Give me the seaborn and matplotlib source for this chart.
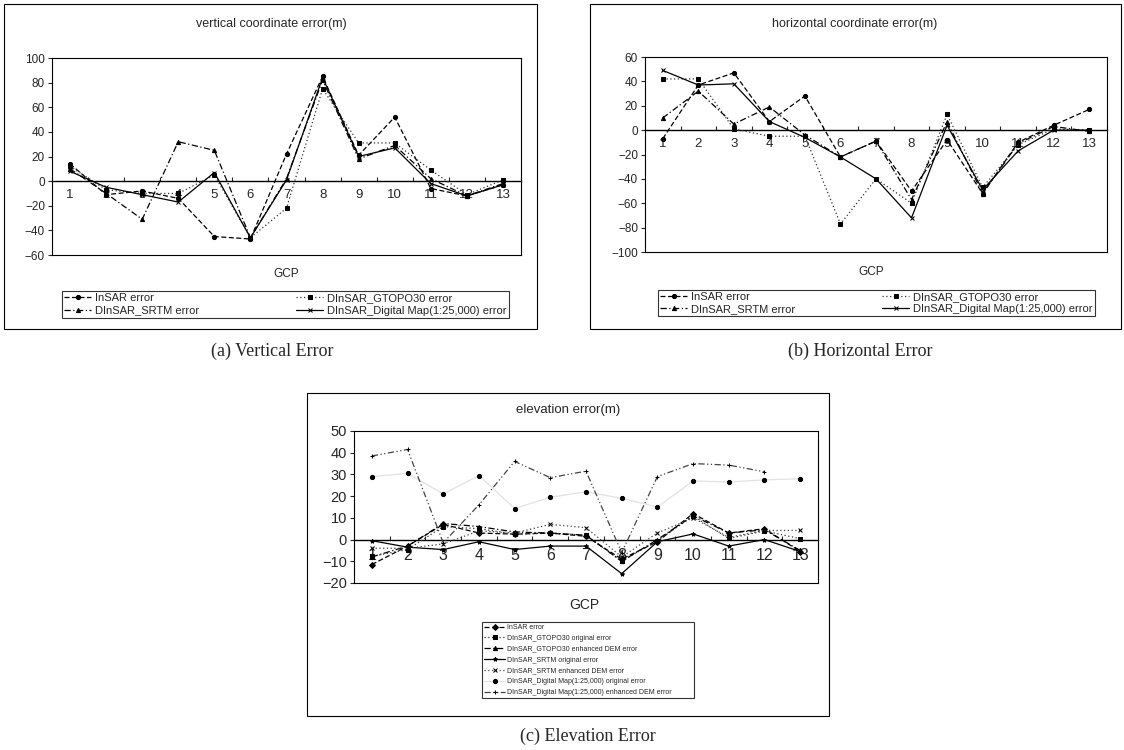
import numpy as np
import matplotlib
matplotlib.use("Agg")
import matplotlib.pyplot as plt
import seaborn as sns
from matplotlib.patches import Rectangle

gcp = list(range(1, 14))

# (a) vertical coordinate error (m)
vert_insar = [14, -11, -8, -14, -45, -47, 22, 85, 21, 52, -6, -12, -3]
vert_gtopo = [12, -7, -10, -10, 5, -46, -22, 75, 31, 31, 9, -11, 1]
vert_srtm = [10, -10, -31, 32, 25, -46, 2, 82, 18, 29, 2, -12, -2]
vert_dmap = [8, -5, -11, -17, 7, -46, 1, 84, 20, 27, -2, -12, -3]

# (b) horizontal coordinate error (m)
hor_insar = [-7, 37, 47, 7, 28, -22, -9, -50, -8, -52, -10, 4, 17]
hor_gtopo = [42, 42, 1, -5, -5, -77, -40, -60, 13, -47, -12, 1, 0]
hor_srtm = [10, 32, 5, 19, -4, -22, -9, -57, 7, -52, -11, 3, -1]
hor_dmap = [49, 37, 38, 7, -6, -22, -40, -72, 4, -49, -17, 0, 0]

# (c) elevation error (m)
el_insar = [-11.5, -3, 7, 3, 2.5, 3, 1.5, -9, -1, 12, 3, 5, -5.5]
el_gtopo_orig = [-7.7, -4.6, 6, 5, 2.5, 3, 2, -10, -0.5, 10.8, 0.5, 4, 0.4]
el_gtopo_enh = [-8, -3, 7.4, 6, 3.5, 3, 2, -10, 0, 11, 3, 4.5, -5]
el_srtm_orig = [-0.5, -3.5, -4.6, -1, -4.6, -3, -3, -15.7, -1, 2.6, -3, 0, -5.5]
el_srtm_enh = [-4, -4, -2, 4, 3, 7, 5.5, -8, 3, 10, 1, 4.2, 4.2]
el_dmap_orig = [29, 30.5, 21, 29.5, 14.3, 19.5, 22, 19, 15, 27, 26.5, 27.5, 28]
el_dmap_enh = [38.5, 41.5, -1.5, 16, 36, 28.5, 31.5, -6, 29, 35, 34.3, 31.2, np.nan]

labels_ab = ["InSAR error", "DInSAR_GTOPO30 error", "DInSAR_SRTM error",
             "DInSAR_Digital Map(1:25,000) error"]
labels_c = ["InSAR error", "DInSAR_GTOPO30 original error",
            "DInSAR_GTOPO30 enhanced DEM error", "DInSAR_SRTM original error",
            "DInSAR_SRTM enhanced DEM error",
            "DInSAR_Digital Map(1:25,000) original error",
            "DInSAR_Digital Map(1:25,000) enhanced DEM error"]

sns.set_style("white")
plt.rcParams["font.family"] = ["Liberation Sans", "DejaVu Sans"]

W, H = 1124, 750
fig = plt.figure(figsize=(W / 100, H / 100), dpi=100)


def px_axes(x0, y0, x1, y1):
    return fig.add_axes([x0 / W, 1 - y1 / H, (x1 - x0) / W, (y1 - y0) / H])


def fx(x, y):
    return x / W, 1 - y / H


def frame(x0, y0, x1, y1):
    fig.add_artist(Rectangle(fx(x0, y1), (x1 - x0) / W, (y1 - y0) / H,
                             transform=fig.transFigure, fill=False,
                             ec="black", lw=0.8))


def style_axes(ax, ylim, step, fs):
    ax.set_xlim(0.5, 13.5)
    ax.set_ylim(*ylim)
    ax.set_yticks(np.arange(ylim[0], ylim[1] + step, step))
    ax.set_xticks([])
    ax.set_xlabel("")
    ax.set_ylabel("")
    ax.tick_params(axis="y", left=True, direction="out", length=3,
                   width=0.8, labelsize=fs, pad=2)
    for sp in ax.spines.values():
        sp.set_color("black")
        sp.set_linewidth(0.8)
    # category labels sit on the zero line, Excel style
    sec = ax.secondary_xaxis(0, transform=ax.transData)
    sec.set_xticks(gcp)
    sec.set_xticks(np.arange(0.5, 14, 1), minor=True)
    sec.tick_params(which="major", length=0, labelsize=fs + 1, pad=6)
    sec.tick_params(which="minor", length=3, direction="in", width=0.8)
    sec.spines["bottom"].set_linewidth(1.0)
    sec.spines["bottom"].set_color("black")


def draw(ax, series, labels, styles, lw, ms):
    for vals, lab, (ls, mk, col) in zip(series, labels, styles):
        sns.lineplot(x=gcp, y=vals, ax=ax, color=col, linestyle=ls,
                     marker=mk, markersize=ms, markeredgecolor="black",
                     markerfacecolor="black", lw=lw, label=lab)


def legend(ax, handles, labels, box, ncol, fs, **kw):
    x0, y0, x1, y1 = box
    leg = ax.legend(handles, labels, ncol=ncol, mode="expand", loc="center",
                    bbox_to_anchor=(x0 / W, 1 - y1 / H, (x1 - x0) / W,
                                    (y1 - y0) / H),
                    bbox_transform=fig.transFigure, fontsize=fs,
                    frameon=True, fancybox=False, edgecolor="black",
                    borderaxespad=0, **kw)
    leg.get_frame().set_linewidth(0.8)


styles_ab = [((0, (4, 2)), "o", "black"),
             ((0, (1, 2)), "s", "#333333"),
             ((0, (5, 2, 1, 2)), "^", "black"),
             ("-", "x", "black")]
order = [0, 2, 1, 3]
serif = ["Liberation Serif", "DejaVu Serif"]

# ---- (a) vertical ----
frame(4, 4, 537, 329)
ax_a = px_axes(52, 58, 521, 255)
draw(ax_a, [vert_insar, vert_gtopo, vert_srtm, vert_dmap], labels_ab,
     styles_ab, 0.9, 3)
style_axes(ax_a, (-60, 100), 20, 8.5)
fig.text(*fx(271, 24), "vertical coordinate error(m)", ha="center",
         va="center", fontsize=9)
fig.text(*fx(286, 274), "GCP", ha="center", va="center", fontsize=8.5)
h, l = ax_a.get_legend_handles_labels()
legend(ax_a, [h[i] for i in order], [l[i] for i in order],
       (62, 288, 509, 321), 2, 8, handlelength=2.4, borderpad=0.2,
       labelspacing=0.2, handletextpad=0.4, columnspacing=1.0)
fig.text(*fx(272, 351), "(a) Vertical Error", ha="center", va="center",
         fontsize=13, family=serif)

# ---- (b) horizontal ----
frame(590, 4, 1121, 329)
ax_b = px_axes(645, 57, 1107, 252)
draw(ax_b, [hor_insar, hor_gtopo, hor_srtm, hor_dmap], labels_ab,
     styles_ab, 0.9, 3)
style_axes(ax_b, (-100, 60), 20, 8.5)
fig.text(*fx(855, 24), "horizontal coordinate error(m)", ha="center",
         va="center", fontsize=9)
fig.text(*fx(871, 272), "GCP", ha="center", va="center", fontsize=8.5)
h, l = ax_b.get_legend_handles_labels()
legend(ax_b, [h[i] for i in order], [l[i] for i in order],
       (658, 286, 1095, 320), 2, 8, handlelength=2.4, borderpad=0.2,
       labelspacing=0.2, handletextpad=0.4, columnspacing=1.0)
fig.text(*fx(860, 351), "(b) Horizontal Error", ha="center", va="center",
         fontsize=13, family=serif)

# ---- (c) elevation ----
styles_c = [((0, (4, 2)), "D", "black"),
            ((0, (1, 2)), "s", "#333333"),
            ((0, (5, 2, 1, 2)), "^", "black"),
            ("-", "*", "black"),
            ((0, (1, 2)), "x", "#444444"),
            ("-", "o", "#e2e2e2"),
            ((0, (5, 2, 1, 2, 1, 2)), "+", "#444444")]
frame(307, 393, 829, 716)
ax_c = px_axes(354, 431, 818, 583)
draw(ax_c, [el_insar, el_gtopo_orig, el_gtopo_enh, el_srtm_orig,
            el_srtm_enh, el_dmap_orig, el_dmap_enh], labels_c,
     styles_c, 0.9, 3)
style_axes(ax_c, (-20, 50), 10, 10.5)
fig.text(*fx(568, 410), "elevation error(m)", ha="center", va="center",
         fontsize=9.5)
fig.text(*fx(584, 605), "GCP", ha="center", va="center", fontsize=10)
h, l = ax_c.get_legend_handles_labels()
legend(ax_c, h, l, (482, 617, 694, 703), 1, 5, handlelength=3,
       borderpad=0.3, labelspacing=0.55, handletextpad=0.3)
fig.text(*fx(588, 736), "(c) Elevation Error", ha="center", va="center",
         fontsize=13, family=serif)

fig.savefig("out.png", dpi=100)
